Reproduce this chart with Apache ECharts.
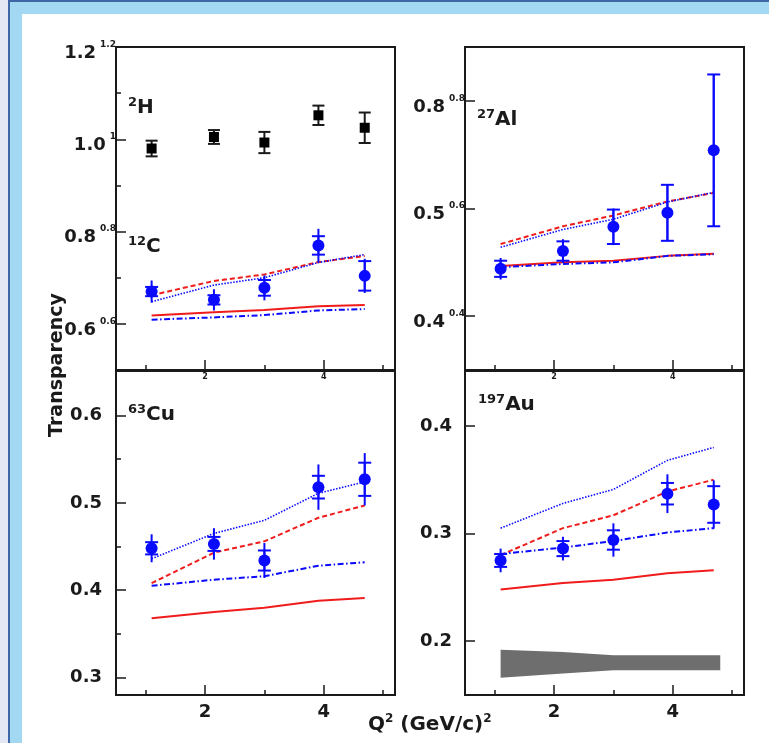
<!DOCTYPE html>
<html>
<head>
<meta charset="utf-8">
<script src="https://cdn.jsdelivr.net/npm/echarts@6/dist/echarts.min.js"></script>
<style>
  html, body { margin: 0; padding: 0; background: #fff; }
  #chart { width: 769px; height: 743px; }
</style>
</head>
<body>
<div id="chart"></div>
<script>
// Q^2 bins (GeV/c)^2
var q2 = [1.1, 2.15, 3.0, 3.91, 4.69];

// 2H
var hVal = [0.980, 1.005, 0.993, 1.052, 1.025];
var hErr = [0.017, 0.015, 0.023, 0.021, 0.033];

// 12C
var cVal = [0.670, 0.652, 0.678, 0.770, 0.704];
var cStat = [0.010, 0.010, 0.017, 0.020, 0.032];
var cTot = [0.024, 0.023, 0.027, 0.036, 0.037];
var cDash = [0.662, 0.693, 0.707, 0.734, 0.747];
var cDot = [0.648, 0.684, 0.700, 0.733, 0.750];
var cSolid = [0.618, 0.625, 0.630, 0.638, 0.641];
var cDashDot = [0.609, 0.614, 0.619, 0.629, 0.632];

// 27Al
var alVal = [0.488, 0.521, 0.566, 0.592, 0.708];
var alStat = [0.015, 0.018, 0.032, 0.052, 0.141];
var alTot = [0.020, 0.022, 0.034, 0.053, 0.142];
var alDash = [0.534, 0.567, 0.587, 0.613, 0.629];
var alDot = [0.528, 0.561, 0.580, 0.612, 0.630];
var alSolid = [0.493, 0.500, 0.503, 0.512, 0.516];
var alDashDot = [0.491, 0.497, 0.500, 0.512, 0.515];

// 63Cu
var cuVal = [0.448, 0.453, 0.434, 0.518, 0.527];
var cuStat = [0.007, 0.008, 0.0115, 0.013, 0.019];
var cuTot = [0.016, 0.018, 0.020, 0.026, 0.030];
var cuDash = [0.408, 0.443, 0.456, 0.483, 0.497];
var cuDot = [0.436, 0.465, 0.480, 0.511, 0.524];
var cuSolid = [0.368, 0.375, 0.380, 0.388, 0.391];
var cuDashDot = [0.405, 0.412, 0.416, 0.428, 0.432];

// 197Au
var auVal = [0.275, 0.286, 0.294, 0.337, 0.327];
var auStat = [0.006, 0.007, 0.009, 0.010, 0.017];
var auTot = [0.011, 0.011, 0.0155, 0.018, 0.0225];
var auDash = [0.280, 0.305, 0.317, 0.339, 0.350];
var auDot = [0.305, 0.328, 0.341, 0.368, 0.380];
var auSolid = [0.248, 0.254, 0.257, 0.263, 0.266];
var auDashDot = [0.281, 0.287, 0.293, 0.301, 0.305];

// systematic band (197Au panel)
var bandQ2 = [1.1, 2.15, 3.0, 3.9, 4.8];
var bandLow = [0.166, 0.170, 0.173, 0.173, 0.173];
var bandHigh = [0.192, 0.190, 0.187, 0.187, 0.187];

// tick labels
var xMajor = [2, 4];
var xMinor = [1, 3, 5];
var tlTicks = [0.6, 0.8, 1.0, 1.2];
var tlBig = ['0.6', '0.8', '1.0', '1.2'];
var tlSmall = ['0.6', '0.8', '1', '1.2'];
var tlMinor = [0.7, 0.9, 1.1];
var trTicks = [0.4, 0.6, 0.8];
var trBig = ['0.4', '0.5', '0.8'];
var trSmall = ['0.4', '0.6', '0.8'];
var blTicks = [0.3, 0.4, 0.5, 0.6];
var blMinor = [0.35, 0.45, 0.55];
var brTicks = [0.2, 0.3, 0.4];

var FONT = 'DejaVu Sans';
var INK = '#1a1a1a';
var BLUE = '#0a0aff';
var RED = '#f01c1c';

var chart = echarts.init(document.getElementById('chart'), null, { renderer: 'canvas' });

var grids = [
  { left: 116, top: 47, width: 279, height: 323 },
  { left: 465, top: 47, width: 279, height: 323 },
  { left: 116, top: 371, width: 279, height: 324 },
  { left: 465, top: 371, width: 279, height: 324 }
];
grids.forEach(function (g) {
  g.show = true;
  g.borderColor = INK;
  g.borderWidth = 2;
  g.backgroundColor = 'transparent';
});

var yRange = [[0.5, 1.2], [0.3, 0.9], [0.28, 0.651], [0.15, 0.451]];

var xAxes = [], yAxes = [];

function pick(ticks, labels, v) {
  for (var i = 0; i < ticks.length; i++) {
    if (Math.abs(ticks[i] - v) < 1e-6) return labels[i];
  }
  return '';
}

for (var gi = 0; gi < 4; gi++) {
  var bottomRow = gi >= 2;
  xAxes.push({
    type: 'value', gridIndex: gi, position: 'bottom', min: 0.5, max: 5.2,
    axisLine: { show: true, lineStyle: { color: INK, width: 2 } },
    splitLine: { show: false },
    axisTick: { show: true, inside: true, length: 10, customValues: xMajor, lineStyle: { color: INK, width: 1.5 } },
    axisLabel: {
      customValues: xMajor, fontFamily: FONT, fontWeight: 'bold', color: INK,
      fontSize: bottomRow ? 18 : 8, margin: bottomRow ? 8 : 3
    }
  });
  xAxes.push({
    type: 'value', gridIndex: gi, position: 'bottom', min: 0.5, max: 5.2,
    axisLine: { show: false }, splitLine: { show: false },
    axisTick: { show: true, inside: true, length: 5, customValues: xMinor, lineStyle: { color: INK, width: 1.5 } },
    axisLabel: { show: false }
  });
}

function richLabel(ticks, big, small) {
  return {
    customValues: ticks, margin: 0, padding: [12, 0, 0, 0],
    formatter: function (v) {
      return '{b|' + pick(ticks, big, v) + '}{s|' + pick(ticks, small, v) + '}';
    },
    rich: {
      b: { fontFamily: FONT, fontWeight: 'bold', fontSize: 18, color: INK, lineHeight: 26 },
      s: { fontFamily: FONT, fontWeight: 'bold', fontSize: 9, color: INK, lineHeight: 10, verticalAlign: 'top', padding: [0, 0, 0, 4] }
    }
  };
}

var yMajorTicks = [tlTicks, trTicks, blTicks, brTicks];
var yMinorTicks = [tlMinor, [], blMinor, []];
var yLabels = [
  richLabel(tlTicks, tlBig, tlSmall),
  richLabel(trTicks, trBig, trSmall),
  { customValues: blTicks, margin: 14, fontFamily: FONT, fontWeight: 'bold', fontSize: 18, color: INK,
    formatter: function (v) { return v.toFixed(1); } },
  { customValues: brTicks, margin: 13, fontFamily: FONT, fontWeight: 'bold', fontSize: 18, color: INK,
    formatter: function (v) { return v.toFixed(1); } }
];

for (var gj = 0; gj < 4; gj++) {
  yAxes.push({
    type: 'value', gridIndex: gj, position: 'left', min: yRange[gj][0], max: yRange[gj][1],
    axisLine: { show: true, lineStyle: { color: INK, width: 2 } },
    splitLine: { show: false },
    axisTick: { show: true, inside: true, length: 10, customValues: yMajorTicks[gj], lineStyle: { color: INK, width: 1.5 } },
    axisLabel: yLabels[gj]
  });
  yAxes.push({
    type: 'value', gridIndex: gj, position: 'left', min: yRange[gj][0], max: yRange[gj][1],
    axisLine: { show: false }, splitLine: { show: false },
    axisTick: { show: yMinorTicks[gj].length > 0, inside: true, length: 5, customValues: yMinorTicks[gj].length ? yMinorTicks[gj] : [yRange[gj][0]], lineStyle: { color: INK, width: 1.5 } },
    axisLabel: { show: false }
  });
}

function pairs(xs, ys) {
  return xs.map(function (x, i) { return [x, ys[i]]; });
}

function curve(gi, vals, color, type, width) {
  return {
    type: 'line', xAxisIndex: 2 * gi, yAxisIndex: 2 * gi,
    data: pairs(q2, vals), symbol: 'none', smooth: false, z: 3,
    lineStyle: { color: color, width: width, type: type }
  };
}

function errBars(gi, vals, errs, color, capHalf) {
  return {
    type: 'custom', xAxisIndex: 2 * gi, yAxisIndex: 2 * gi, z: 4,
    data: q2.map(function (x, i) { return [x, vals[i] - errs[i], vals[i] + errs[i]]; }),
    renderItem: function (params, api) {
      var lo = api.coord([api.value(0), api.value(1)]);
      var hi = api.coord([api.value(0), api.value(2)]);
      var st = { stroke: color, lineWidth: 2 };
      var kids = [{ type: 'line', shape: { x1: lo[0], y1: lo[1], x2: hi[0], y2: hi[1] }, style: st }];
      if (capHalf) {
        kids.push({ type: 'line', shape: { x1: lo[0] - capHalf, y1: lo[1], x2: lo[0] + capHalf, y2: lo[1] }, style: st });
        kids.push({ type: 'line', shape: { x1: hi[0] - capHalf, y1: hi[1], x2: hi[0] + capHalf, y2: hi[1] }, style: st });
      }
      return { type: 'group', children: kids };
    }
  };
}

function points(gi, vals, symbol, color, size) {
  return {
    type: 'scatter', xAxisIndex: 2 * gi, yAxisIndex: 2 * gi, z: 5,
    data: pairs(q2, vals), symbol: symbol, symbolSize: size,
    itemStyle: { color: color, opacity: 1 }
  };
}

function nucleus(gi, vals, stat, tot, dash, dot, solid, dashDot) {
  return [
    curve(gi, dash, RED, [5, 3], 2),
    curve(gi, dot, BLUE, [1.5, 1.5], 1.6),
    curve(gi, solid, RED, 'solid', 2),
    curve(gi, dashDot, BLUE, [6, 2.5, 1.5, 2.5], 2),
    errBars(gi, vals, tot, BLUE, 0),
    errBars(gi, vals, stat, BLUE, 6.5),
    points(gi, vals, 'circle', BLUE, 12)
  ];
}

var series = [];
series.push(errBars(0, hVal, hErr, INK, 6));
series.push(points(0, hVal, 'rect', '#000', 10));
series = series.concat(nucleus(0, cVal, cStat, cTot, cDash, cDot, cSolid, cDashDot));
series = series.concat(nucleus(1, alVal, alStat, alTot, alDash, alDot, alSolid, alDashDot));
series = series.concat(nucleus(2, cuVal, cuStat, cuTot, cuDash, cuDot, cuSolid, cuDashDot));
series = series.concat(nucleus(3, auVal, auStat, auTot, auDash, auDot, auSolid, auDashDot));

series.push({
  type: 'custom', xAxisIndex: 6, yAxisIndex: 6, z: 2,
  data: [[bandQ2[0], bandLow[0]]],
  renderItem: function (params, api) {
    var pts = [];
    for (var i = 0; i < bandQ2.length; i++) pts.push(api.coord([bandQ2[i], bandHigh[i]]));
    for (var j = bandQ2.length - 1; j >= 0; j--) pts.push(api.coord([bandQ2[j], bandLow[j]]));
    return { type: 'polygon', shape: { points: pts }, style: { fill: '#6e6e6e', stroke: 'none' } };
  }
});

function tag(x, y, sup, name) {
  return {
    type: 'text', x: x, y: y, z: 10,
    style: {
      text: '{s|' + sup + '}{b|' + name + '}',
      verticalAlign: 'top', align: 'left',
      rich: {
        s: { fontFamily: FONT, fontWeight: 'bold', fontSize: 13, fill: INK, lineHeight: 8, verticalAlign: 'top' },
        b: { fontFamily: FONT, fontWeight: 'bold', fontSize: 20, fill: INK, lineHeight: 24 }
      }
    }
  };
}

var graphic = [
  { type: 'rect', shape: { x: 0, y: 0, width: 8, height: 743 }, style: { fill: '#e3e8f4' }, z: -10 },
  { type: 'rect', shape: { x: 8, y: 0, width: 2, height: 743 }, style: { fill: '#3f67a8' }, z: -10 },
  { type: 'rect', shape: { x: 8, y: 0, width: 761, height: 2 }, style: { fill: '#3f67a8' }, z: -10 },
  { type: 'rect', shape: { x: 10, y: 2, width: 759, height: 12 }, style: { fill: '#a3d8f2' }, z: -10 },
  { type: 'rect', shape: { x: 10, y: 2, width: 12, height: 741 }, style: { fill: '#a3d8f2' }, z: -10 },
  tag(128, 96, '2', 'H'),
  tag(128, 235, '12', 'C'),
  tag(477, 108, '27', 'Al'),
  tag(128, 403, '63', 'Cu'),
  tag(478, 393, '197', 'Au'),
  {
    type: 'text', x: 57, y: 365, rotation: Math.PI / 2, z: 10,
    style: { text: 'Transparency', fontFamily: FONT, fontWeight: 'bold', fontSize: 19, fill: INK, align: 'center', verticalAlign: 'middle' }
  },
  {
    type: 'text', x: 368, y: 725, z: 10,
    style: {
      text: '{b|Q}{s|2}{b| (GeV/c)}{s|2}', align: 'left', verticalAlign: 'middle',
      rich: {
        b: { fontFamily: FONT, fontWeight: 'bold', fontSize: 20, fill: INK, lineHeight: 24 },
        s: { fontFamily: FONT, fontWeight: 'bold', fontSize: 12, fill: INK, lineHeight: 8, verticalAlign: 'top' }
      }
    }
  }
];

chart.setOption({
  backgroundColor: '#fff',
  animation: false,
  grid: grids,
  xAxis: xAxes,
  yAxis: yAxes,
  series: series,
  graphic: graphic
});
</script>
</body>
</html>
